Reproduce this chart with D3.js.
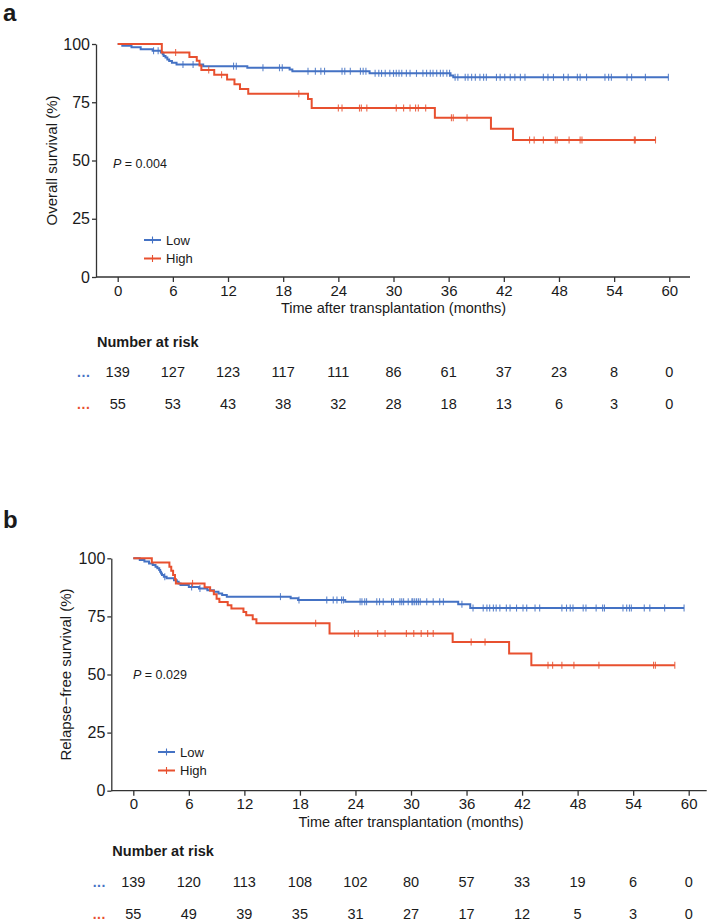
<!DOCTYPE html>
<html>
<head>
<meta charset="utf-8">
<script src="https://cdn.jsdelivr.net/npm/d3@7"></script>
<style>
  body { margin: 0; background: #fff; }
  text { font-family: "Liberation Sans", Arial, Helvetica, sans-serif; fill: #1a1a1a; }
</style>
</head>
<body>
<script>
// Axis ticks
const timeTicks = [0, 6, 12, 18, 24, 30, 36, 42, 48, 54, 60];
const survTicks = [0, 25, 50, 75, 100];
const groups = ["Low", "High"];
const groupColors = ["#4472c4", "#e8502f"];

// Panel a: overall survival, [months, survival %] at each step
const osLow = [[0,100],[0.5,99.3],[1.5,98.6],[2.5,97.8],[3.8,97.1],[4.7,96.4],[4.9,95.6],[5.0,94.9],
  [5.2,94.2],[5.4,93.4],[5.6,92.7],[5.9,92.0],[6.4,91.2],[9.3,90.5],[14.1,89.8],[18.7,89.1],[19.0,88.3],
  [27.4,87.4],[36.2,86.5],[36.5,85.7],[59.9,85.7]];
const osHigh = [[0,100],[4.8,96.4],[7.8,94.4],[8.6,92.8],[8.9,90.8],[9.1,88.8],[10.5,86.8],[11.9,84.8],
  [12.7,82.7],[13.3,80.7],[14.2,78.6],[20.7,76.4],[21.1,72.5],[34.5,68.4],[40.6,63.6],[43.0,58.8],[58.5,58.8]];
// censored observations (months)
const osLowCens = [3.9,4.4,7.1,8.2,12.6,12.9,15.8,17.6,17.9,20.7,21.5,22.1,22.5,24.4,24.7,25.3,26.4,26.7,27.0,
  28.0,28.4,28.7,29.1,29.6,30.0,30.3,30.6,30.9,31.4,31.8,32.5,33.2,33.6,34.0,34.3,34.7,35.1,35.4,35.8,36.1,
  36.7,37.0,37.8,38.1,38.5,38.9,39.4,39.8,40.1,41.2,41.6,42.1,42.7,43.2,43.8,44.3,46.3,46.8,47.4,48.5,49.0,
  50.0,50.3,51.0,53.0,53.4,53.7,55.4,55.9,57.4,59.9];
const osHighCens = [6.3,9.9,11.3,19.7,24.0,24.4,26.3,26.5,27.1,30.3,31.1,31.8,32.4,32.7,33.5,36.3,36.5,38.0,
  44.8,45.3,46.3,47.6,47.8,49.1,50.3,50.5,56.2,56.3,58.5];

// Panel b: relapse-free survival
const rfsLow = [[0,100],[0.7,99.3],[1.2,98.6],[1.7,97.8],[2.1,97.1],[2.4,96.4],[2.6,95.7],[2.8,95.0],
  [2.9,94.2],[3.0,93.5],[3.1,92.8],[3.3,92.1],[3.6,91.4],[4.4,90.6],[4.7,89.9],[4.9,89.2],[5.1,88.5],
  [6.0,87.7],[7.1,87.0],[8.0,86.3],[8.7,85.6],[9.2,84.9],[9.6,84.2],[10.1,83.5],[17.0,82.8],[17.8,82.1],
  [22.9,81.3],[35.1,80.2],[36.4,78.6],[59.5,78.6]];
const rfsHigh = [[0,100],[2.0,98.2],[3.9,96.4],[4.1,94.6],[4.3,92.8],[4.5,91.0],[4.6,89.2],[7.7,87.5],
  [8.3,86.0],[8.7,84.5],[9.0,82.6],[9.3,81.2],[10.2,79.8],[10.6,78.4],[11.9,76.9],[12.2,75.5],[12.9,73.8],
  [13.3,72.0],[21.2,67.6],[34.5,64.0],[40.6,59.0],[43.0,54.0],[58.5,54.0]];
const rfsLowCens = [3.4,6.3,7.2,15.9,17.9,20.9,21.6,22.0,22.5,22.7,24.5,24.7,25.0,25.2,26.3,26.6,27.0,27.9,
  28.1,28.8,29.0,29.2,29.7,30.1,30.2,30.4,30.6,30.8,31.0,31.7,32.4,33.1,33.5,35.5,36.7,37.8,38.2,38.5,38.9,
  39.2,39.6,40.3,40.7,41.4,42.1,42.5,43.4,43.9,46.3,46.8,47.2,47.5,48.6,48.9,50.0,50.7,50.9,52.9,53.3,53.6,
  53.8,55.2,55.8,57.4,59.5];
const rfsHighCens = [6.4,19.7,23.9,24.3,26.4,27.2,29.5,30.3,31.1,31.8,32.4,36.5,38.0,44.8,45.3,46.3,47.6,
  50.3,56.2,56.4,58.5];

// Number at risk
const osRiskLow = [139, 127, 123, 117, 111, 86, 61, 37, 23, 8, 0];
const osRiskHigh = [55, 53, 43, 38, 32, 28, 18, 13, 6, 3, 0];
const rfsRiskLow = [139, 120, 113, 108, 102, 80, 57, 33, 19, 6, 0];
const rfsRiskHigh = [55, 49, 39, 35, 31, 27, 17, 12, 5, 3, 0];

const W = 708, H = 924;
const svg = d3.select("body").append("svg").attr("width", W).attr("height", H);

function survAt(steps, t) {
  const i = d3.bisector(d => d[0]).right(steps, t) - 1;
  return steps[Math.max(0, i)][1];
}

function drawPanel(cfg) {
  const x = d3.scaleLinear().domain([0, 60]).range([cfg.x0, cfg.x60]);
  const y = d3.scaleLinear().domain([0, 100]).range([cfg.yBottom, cfg.yTop]);
  const g = svg.append("g");

  // panel letter
  g.append("text")
    .attr("x", cfg.letterX).attr("y", cfg.letterY)
    .attr("font-size", 24).attr("font-weight", "bold")
    .text(cfg.letter);

  // x axis
  const xAx = g.append("g")
    .attr("transform", `translate(0,${cfg.yBottom})`)
    .call(d3.axisBottom(x).tickValues(timeTicks).tickSize(5).tickPadding(3).tickSizeOuter(0));
  xAx.select(".domain").attr("d", `M${cfg.axisX},0H${cfg.axisEnd}`);
  xAx.attr("font-size", 15);

  // y axis
  const yAx = g.append("g")
    .attr("transform", `translate(${cfg.axisX},0)`)
    .call(d3.axisLeft(y).tickValues(survTicks).tickSize(4).tickPadding(2).tickSizeOuter(0));
  yAx.attr("font-size", 16);

  [xAx, yAx].forEach(a => {
    a.selectAll("path, line").attr("stroke", "#333").attr("stroke-width", 1.3);
  });

  // axis titles
  g.append("text")
    .attr("x", (cfg.x0 + cfg.x60) / 2).attr("y", cfg.yBottom + 36)
    .attr("text-anchor", "middle").attr("font-size", 14.5)
    .text("Time after transplantation (months)");
  g.append("text")
    .attr("transform", `translate(${cfg.yTitleX},${(cfg.yTop + cfg.yBottom) / 2}) rotate(-90)`)
    .attr("text-anchor", "middle").attr("font-size", 15)
    .text(cfg.yTitle);

  // survival curves with censor marks
  const line = d3.line().x(d => x(d[0])).y(d => y(d[1])).curve(d3.curveStepAfter);
  cfg.curves.forEach((c, i) => {
    g.append("path").datum(c)
      .attr("fill", "none").attr("stroke", groupColors[i]).attr("stroke-width", 2)
      .attr("d", line);
    g.append("g").selectAll("line")
      .data(cfg.censored[i])
      .join("line")
      .attr("x1", d => x(d)).attr("x2", d => x(d))
      .attr("y1", d => y(survAt(c, d)) - 3.5)
      .attr("y2", d => y(survAt(c, d)) + 3.5)
      .attr("stroke", groupColors[i])
      .attr("stroke-width", 1.1)
      .attr("opacity", 0.85);
  });

  // p value
  const p = g.append("text")
    .attr("x", cfg.pX).attr("y", cfg.pY).attr("font-size", 12.5);
  p.append("tspan").attr("font-style", "italic").text("P");
  p.append("tspan").text(" = " + cfg.pValue);

  // legend
  groups.forEach((name, i) => {
    const ly = cfg.legendY + i * 18.5;
    g.append("line")
      .attr("x1", cfg.legendX).attr("x2", cfg.legendX + 17)
      .attr("y1", ly).attr("y2", ly)
      .attr("stroke", groupColors[i]).attr("stroke-width", 2);
    g.append("line")
      .attr("x1", cfg.legendX + 8.5).attr("x2", cfg.legendX + 8.5)
      .attr("y1", ly - 3.5).attr("y2", ly + 3.5)
      .attr("stroke", groupColors[i]).attr("stroke-width", 1.1);
    g.append("text")
      .attr("x", cfg.legendX + 22).attr("y", ly + 4.7)
      .attr("font-size", 13)
      .text(name);
  });

  // number at risk table
  g.append("text")
    .attr("x", cfg.axisX + 1).attr("y", cfg.riskHeadY)
    .attr("font-size", 14.5).attr("font-weight", "bold")
    .text("Number at risk");
  cfg.risk.forEach((row, i) => {
    const ry = cfg.riskRowY + i * cfg.riskGap;
    g.append("text")
      .attr("x", x(0) - 34).attr("y", ry)
      .attr("text-anchor", "middle").attr("font-size", 14).attr("font-weight", "bold")
      .attr("letter-spacing", 0.5)
      .style("fill", groupColors[i])
      .text("...");
    g.append("g").selectAll("text")
      .data(row)
      .join("text")
      .attr("x", (d, j) => x(timeTicks[j]))
      .attr("y", ry)
      .attr("text-anchor", "middle").attr("font-size", 14.5)
      .text(d => d);
  });
}

drawPanel({
  letter: "a", letterX: 3, letterY: 21,
  x0: 117.7, x60: 669.3, yTop: 44, yBottom: 277, axisX: 96, axisEnd: 690,
  yTitle: "Overall survival (%)", yTitleX: 57,
  curves: [osLow, osHigh], censored: [osLowCens, osHighCens],
  pValue: "0.004", pX: 113, pY: 167.5,
  legendX: 144, legendY: 240,
  risk: [osRiskLow, osRiskHigh], riskHeadY: 347, riskRowY: 377, riskGap: 32
});

drawPanel({
  letter: "b", letterX: 3, letterY: 528,
  x0: 133.3, x60: 688.7, yTop: 558.3, yBottom: 790.7, axisX: 111.3, axisEnd: 706.7,
  yTitle: "Relapse\u2212free survival (%)", yTitleX: 71,
  curves: [rfsLow, rfsHigh], censored: [rfsLowCens, rfsHighCens],
  pValue: "0.029", pX: 133, pY: 679,
  legendX: 158, legendY: 752,
  risk: [rfsRiskLow, rfsRiskHigh], riskHeadY: 856, riskRowY: 887, riskGap: 32
});
</script>
</body>
</html>
